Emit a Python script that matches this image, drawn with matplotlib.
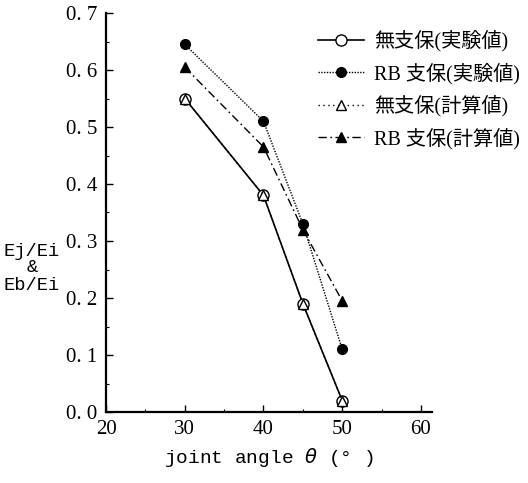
#!/usr/bin/env python3
# joint angle vs energy ratio (Ej/Ei & Eb/Ei), four series
import matplotlib
matplotlib.use("Agg")
import matplotlib.pyplot as plt
from matplotlib.ticker import MultipleLocator, FuncFormatter

# data
theta = [30, 40, 45, 50]
nosup_exp = [0.55, 0.38, 0.19, 0.02]
rb_exp = [0.645, 0.51, 0.33, 0.11]
nosup_calc = [0.55, 0.38, 0.19, 0.02]
rb_calc = [0.605, 0.465, 0.32, 0.195]

labels = ['無支保(実験値)', 'RB 支保(実験値)', '無支保(計算値)', 'RB 支保(計算値)']

x_ticks = [20, 30, 40, 50, 60]
y_ticks = [0.0, 0.1, 0.2, 0.3, 0.4, 0.5, 0.6, 0.7]

serif = ['Liberation Serif', 'Noto Sans CJK JP']
mono = ['Liberation Mono', 'DejaVu Sans Mono']

fig = plt.figure(figsize=(5.28, 4.83), dpi=100)
ax = fig.add_axes([106 / 528, 1 - 412 / 483, (432 - 106) / 528, (412 - 13) / 483])

ms = 7
ax.plot(theta, nosup_exp, color='black', lw=1.2, ls='-', marker='o', ms=ms + 1,
        mfc='white', mec='black', mew=1.0, label=labels[0])
ax.plot(theta, rb_exp, color='black', lw=1.0, ls=(0, (1, 1)), marker='o', ms=ms,
        mfc='black', mec='black', label=labels[1])
ax.plot(theta, nosup_calc, color='black', lw=1.0, ls=(0, (1, 2.5)), marker='^', ms=ms,
        mfc='white', mec='black', mew=1.0, label=labels[2])
ax.plot(theta, rb_calc, color='black', lw=1.0, ls=(0, (6, 2.5, 1.2, 2.5)), marker='^', ms=ms,
        mfc='black', mec='black', label=labels[3])

ax.set_xlim(20, 61.4)
ax.set_ylim(0, 0.7)
ax.set_xticks(x_ticks)
ax.set_yticks(y_ticks)
ax.xaxis.set_minor_locator(MultipleLocator(5))
ax.yaxis.set_minor_locator(MultipleLocator(0.05))
ax.yaxis.set_major_formatter(FuncFormatter(lambda v, p: f"{v:.1f}".replace('.', '. ')))

for s in ['top', 'right']:
    ax.spines[s].set_visible(False)
for s in ['left', 'bottom']:
    ax.spines[s].set_linewidth(1.6)

ax.tick_params(which='major', direction='in', length=5, width=1.0, labelsize=15, pad=6)
ax.tick_params(which='minor', direction='in', length=2.5, width=0.8)
for t in ax.get_xticklabels() + ax.get_yticklabels():
    t.set_family(serif)

ax.set_xlabel('joint angle $\\theta$ (° )', family=mono, fontsize=14, labelpad=5)
fig.text(32 / 528, 1 - 268 / 483, 'Ej/Ei\n&\nEb/Ei', family=mono, fontsize=13.5,
         ha='center', va='center', linespacing=1.0)

leg = fig.legend(loc='upper left', bbox_to_anchor=(318 / 528, 1 - 30 / 483),
                 frameon=False, prop={'family': serif, 'size': 14.5},
                 handlelength=2.3, handletextpad=0.5, labelspacing=0.55,
                 borderpad=0, borderaxespad=0)

fig.savefig('out.png', dpi=100)
